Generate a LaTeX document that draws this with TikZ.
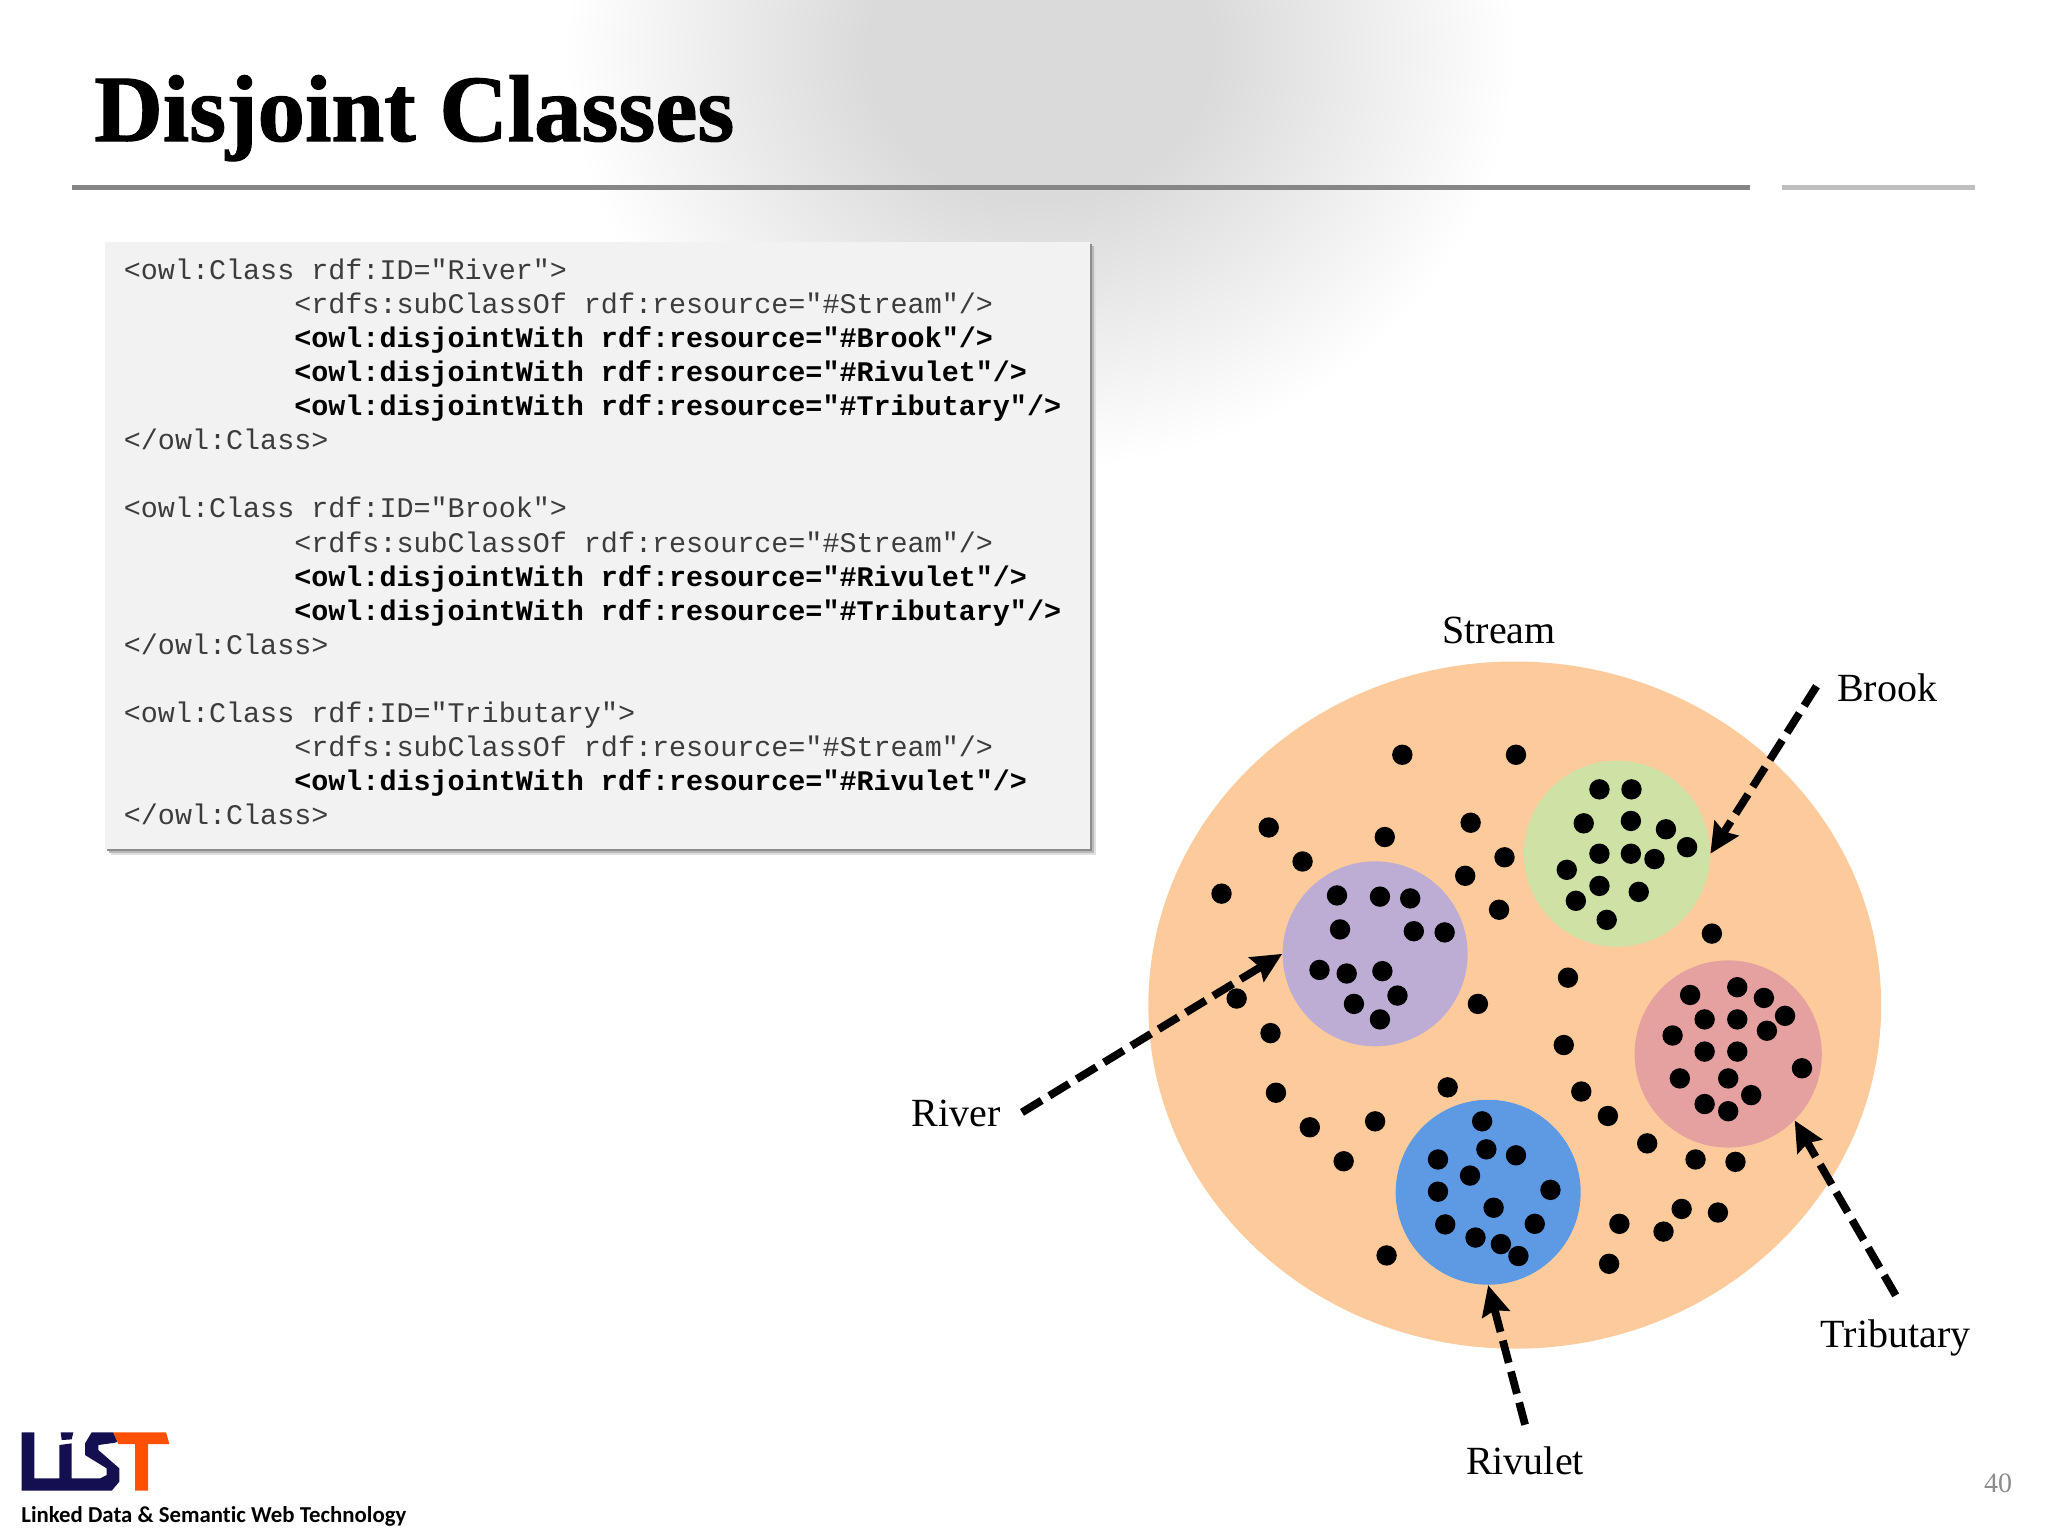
\documentclass[tikz,border=0pt]{standalone}
\usepackage{fontspec}
\setmainfont{Liberation Serif}
\setmonofont{Liberation Mono}
\newfontfamily\titlefont[UprightFont=* Bold,FakeBold=1.2]{Liberation Serif}
\newfontfamily\logofont[Ligatures=NoCommon]{Carlito}
\usetikzlibrary{arrows.meta,shapes.geometric,shadows}
\definecolor{blobgrey}{HTML}{DADADA}
\definecolor{codefill}{HTML}{F2F2F2}
\definecolor{codetext}{HTML}{3C3C3C}
\definecolor{streamfill}{HTML}{FDCB9B}
\definecolor{riverfill}{HTML}{BDADD4}
\definecolor{brookfill}{HTML}{CFE2A6}
\definecolor{tribfill}{HTML}{E5A0A0}
\definecolor{rivuletfill}{HTML}{5E9AE4}
\definecolor{logonavy}{HTML}{14104F}
\definecolor{logoorange}{HTML}{FF4F00}
\pgfdeclareradialshading{greyblob}{\pgfpoint{0bp}{0bp}}{color(0bp)=(blobgrey); color(9bp)=(blobgrey); color(25bp)=(white); color(50bp)=(white)}
\newcommand{\ind}{\hspace*{85.2pt}}
\newcommand{\gap}{\hspace*{8.52pt}}
\tikzset{
  setdot/.style={circle,minimum size=#1,inner sep=0pt},
  namelabel/.style={font=\fontsize{20}{24}\selectfont,inner sep=0pt},
  pointer/.style={-{Stealth[length=15pt,width=14pt,inset=2pt]},line width=3.9pt,dash pattern=on 11.5pt off 4.5pt,black}
}
\begin{document}
\begin{tikzpicture}[x=0.5pt,y=-0.5pt]
    \useasboundingbox (0,0) rectangle (2048,1536);
    \fill [white] (0,0) rectangle (2048,1536);
    % backdrop and rules
    \shade [shading=greyblob] (1040,50) ellipse [x radius=475,y radius=420];
    \fill [gray!95] (72,185) rectangle (1750,190);
    \fill [gray!50] (1782,185) rectangle (1975,190);
    \node [anchor=base west,inner sep=0pt,font=\titlefont\fontsize{47.4}{58}\selectfont] (T0) at (94,141) {Disjoint Classes};
    % code listing
    \node [anchor=north west,inner sep=0pt,fill=codefill,minimum width=492.5pt,minimum height=303.5pt,
      drop shadow={shadow xshift=3pt,shadow yshift=-3pt,fill=gray!25,opacity=1},
      drop shadow={shadow xshift=2pt,shadow yshift=-2pt,fill=gray!55,opacity=1},
      drop shadow={shadow xshift=1pt,shadow yshift=-1pt,fill=gray!90,opacity=1}] (C0) at (104.5,242) {};
    \node [inner sep=0pt,text width=473.5pt,align=left,yshift=2pt,
      font=\ttfamily\fontsize{14.2}{17.05}\selectfont,text=codetext] (C1) at (C0.center) {%
<owl:Class\gap rdf:ID="River">\\
\ind <rdfs:subClassOf\gap rdf:resource="\#Stream"/>\\
\ind \textcolor{black}{\bfseries <owl:disjointWith\gap rdf:resource="\#Brook"/>}\\
\ind \textcolor{black}{\bfseries <owl:disjointWith\gap rdf:resource="\#Rivulet"/>}\\
\ind \textcolor{black}{\bfseries <owl:disjointWith\gap rdf:resource="\#Tributary"/>}\\
</owl:Class>\\
\mbox{}\\
<owl:Class\gap rdf:ID="Brook">\\
\ind <rdfs:subClassOf\gap rdf:resource="\#Stream"/>\\
\ind \textcolor{black}{\bfseries <owl:disjointWith\gap rdf:resource="\#Rivulet"/>}\\
\ind \textcolor{black}{\bfseries <owl:disjointWith\gap rdf:resource="\#Tributary"/>}\\
</owl:Class>\\
\mbox{}\\
<owl:Class\gap rdf:ID="Tributary">\\
\ind <rdfs:subClassOf\gap rdf:resource="\#Stream"/>\\
\ind \textcolor{black}{\bfseries <owl:disjointWith\gap rdf:resource="\#Rivulet"/>}\\
</owl:Class>};
    % logo
    \begin{scope}[shift={(0,1400)},x=0.1667pt,y=-0.1667pt]
      \fill [logonavy] (65,97) -- (103,97) -- (103,235) -- (178,235) -- (178,135) -- (215,130) -- (215,235) -- (300,235)
        -- (320,225) -- (320,205) -- (255,165) -- (255,130) -- (275,97) -- (340,97) -- (352,125) -- (345,128)
        -- (295,135) -- (295,150) -- (358,205) -- (358,245) -- (335,272) -- (65,272) -- cycle;
      \fill [logonavy] (182,97) -- (220,97) -- (215,118) -- (185,120) -- cycle;
      \fill [logoorange] (340,97) -- (498,97) -- (508,132) -- (444,132) -- (444,272) -- (405,272) -- (405,132) -- (355,132) -- cycle;
    \end{scope}
    \node [anchor=base west,inner sep=0pt,font=\logofont\bfseries\fontsize{11.4}{14}\selectfont] (L0) at (21,1522) {Linked Data \& Semantic Web Technology};
    \node [inner sep=0pt,text=gray!90,font=\fontsize{14}{17}\selectfont] (P0) at (1998,1483) {40};
    % sets
    \begin{scope}[shift={(1100,601)},x=0.3023pt,y=-0.298pt]
      \node [ellipse,fill=streamfill,minimum width=366.4pt,minimum height=343.6pt,inner sep=0pt] (A0_0) at (686,678) {};
      \node [setdot=92.5pt,fill=riverfill] (A1_0) at (455,592) {};
      \node [setdot=93pt,fill=brookfill] (A1_1) at (855,424) {};
      \node [setdot=93.6pt,fill=tribfill] (A1_2) at (1039,760) {};
      \node [setdot=92.5pt,fill=rivuletfill] (A1_3) at (642,992) {};
      \foreach \a/\b in {500/258,688/258,279/380,471/396,613/372,335/437,669/430,604/461,201/491,660/518,
        1012/558,774/632,625/676,226/667,282/725,767/745,291/825,575/816,796/823,347/883,455/873,840/864,
        403/940,905/910,985/937,1051/941,859/1045,932/1058,962/1020,1022/1026,842/1112,474/1098,
        392/494,463/496,513/499,397/551,519/554,570/556,363/619,408/625,467/621,492/662,420/676,463/702,
        826/316,879/316,800/373,878/369,936/383,971/413,826/424,878/424,917/433,772/451,826/478,891/488,787/503,838/535,
        976/661,1054/648,1098/666,1133/696,1000/702,1054/702,1103/721,947/729,1000/756,1054/756,1161/784,
        959/801,1039/801,1077/829,1000/844,1039/856,
        632/873,639/920,688/930,559/937,612/964,559/991,745/988,651/1018,571/1046,719/1045,621/1068,663/1079,692/1099}
        \fill (\a,\b) circle (5.1pt);
      \node [namelabel] (B0_0) at (660,49) {Stream};
      \node [namelabel] (B1_0) at (-238,860) {River};
      \node [namelabel] (B1_1) at (1302,145) {Brook};
      \node [namelabel] (B1_2) at (1316,1236) {Tributary};
      \node [namelabel] (B1_3) at (703,1442) {Rivulet};
      \coordinate (E1_0) at (-129,858);
      \coordinate (E1_1) at (1185,143);
      \coordinate (E1_2) at (1316,1165);
      \coordinate (E1_3) at (703,1382);
      \path (E1_0) edge [pointer] (A1_0.west);
      \path (E1_1) edge [pointer] (A1_1.east);
      \path (E1_2) edge [pointer] (A1_2.-45);
      \path (E1_3) edge [pointer] (A1_3.south);
    \end{scope}
\end{tikzpicture}
\end{document}
